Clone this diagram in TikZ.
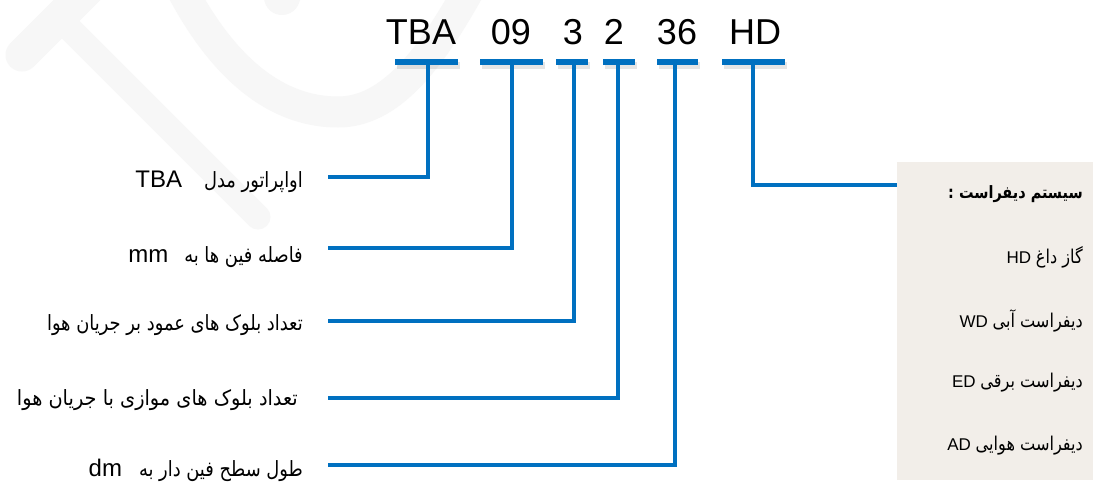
\documentclass[tikz,border=0pt]{standalone}
\usepackage{fontspec}
\setmainfont{Liberation Sans}
\newfontfamily\arabicfont[Script=Arabic,FakeStretch=0.85]{DejaVu Sans}
\TeXXeTstate=1
\definecolor{codeblue}{RGB}{0,112,192}
\definecolor{wmgray}{RGB}{247,247,247}
\definecolor{boxbg}{RGB}{242,238,233}
\begin{document}
\begin{tikzpicture}[x=1pt,y=-1pt,
  codetxt/.style={anchor=base,inner sep=0pt,font=\fontsize{36}{40}\selectfont},
  labeltxt/.style={anchor=base east,inner sep=0pt,font=\fontsize{24}{28}\selectfont},
  boxtxt/.style={anchor=base east,inner sep=0pt,font=\fontsize{17}{20}\selectfont},
  codebar/.style={draw=codeblue,line width=5.5pt},
  barshadow/.style={draw=black,line width=7pt,opacity=0.10},
  connline/.style={draw=codeblue,line width=4.2pt,line join=miter},
  wmband/.style={draw=wmgray,line cap=round}
]
\useasboundingbox (0,0) rectangle (1093,482);
\fill[white] (0,0) rectangle (1093,482);
% watermark
\draw[wmband,line width=33pt] (22,55) -- (100,-23);
\draw[wmband,line width=25pt] (59,18) -- (258,217);
\draw[wmband,line width=36pt] (282,-3) -- (292,-30);
\draw[wmband,line width=31pt,line cap=butt] (182,-10) .. controls (230,80) and (285,112) .. (338,112)
  .. controls (390,112) and (430,60) .. (470,-12);
% right box
\fill[boxbg] (897,162) rectangle (1093,480);
% code
\node[codetxt] (c1) at (421,44) {TBA};
\node[codetxt] (c2) at (511,44) {09};
\node[codetxt] (c3) at (573,44) {3};
\node[codetxt] (c4) at (614,44) {2};
\node[codetxt] (c5) at (677,44) {36};
\node[codetxt] (c6) at (755,44) {HD};
% bars
\foreach \n/\a/\b in {1/395/458,2/480/543,3/556/588,4/603/635,5/657/698,6/722/785}{
  \coordinate (bl\n) at (\a,62);
  \coordinate (br\n) at (\b,62);
  \draw[barshadow] ([shift={(2,3)}]bl\n) -- ([shift={(2,3)}]br\n);
}
\foreach \n in {1,...,6}{
  \draw[codebar] (bl\n) -- (br\n);
}
\coordinate (t1) at (428,62);
\coordinate (t2) at (512,62);
\coordinate (t3) at (574,62);
\coordinate (t4) at (618,62);
\coordinate (t5) at (675,62);
\coordinate (t6) at (753,62);
% connector ends
\coordinate (e1) at (328,177);
\coordinate (e2) at (328,248);
\coordinate (e3) at (328,321);
\coordinate (e4) at (328,398);
\coordinate (e5) at (328,465);
\coordinate (e6) at (897,185);
% left labels
\node[labeltxt] (l1) at (303,187) {TBA\hspace{22pt}{\arabicfont\fontsize{21}{26}\selectfont\beginR اواپراتور مدل\endR}};
\node[labeltxt] (l2) at (303,262) {mm\hspace{16pt}{\arabicfont\fontsize{21}{26}\selectfont\beginR فاصله فین ها به\endR}};
\node[labeltxt] (l3) at (303,330) {{\arabicfont\fontsize{21}{26}\selectfont\beginR تعداد بلوک های عمود بر جریان هوا\endR}};
\node[labeltxt] (l4) at (298,405) {{\arabicfont\fontsize{21}{26}\selectfont\addfontfeature{FakeStretch=0.92}\beginR تعداد بلوک های موازی با جریان هوا\endR}};
\node[labeltxt] (l5) at (303,476) {dm\hspace{17pt}{\arabicfont\fontsize{21}{26}\selectfont\beginR طول سطح فین دار به\endR}};
% connectors
\draw[connline] (t1) |- (e1);
\draw[connline] (t2) |- (e2);
\draw[connline] (t3) |- (e3);
\draw[connline] (t4) |- (e4);
\draw[connline] (t5) |- (e5);
\draw[connline] (t6) |- (e6);
% box texts
\node[boxtxt] (h0) at (1083,198) {{\arabicfont\bfseries\fontsize{17}{20}\selectfont\beginR سیستم دیفراست :\endR}};
\node[boxtxt] (h1) at (1083,263) {HD\ {\arabicfont\fontsize{19}{22}\selectfont\beginR گاز داغ\endR}};
\node[boxtxt] (h2) at (1083,327) {WD\ {\arabicfont\fontsize{19}{22}\selectfont\beginR دیفراست آبی\endR}};
\node[boxtxt] (h3) at (1083,387) {ED\ {\arabicfont\fontsize{19}{22}\selectfont\beginR دیفراست برقی\endR}};
\node[boxtxt] (h4) at (1083,450) {AD\ {\arabicfont\fontsize{19}{22}\selectfont\beginR دیفراست هوایی\endR}};
\end{tikzpicture}
\end{document}
